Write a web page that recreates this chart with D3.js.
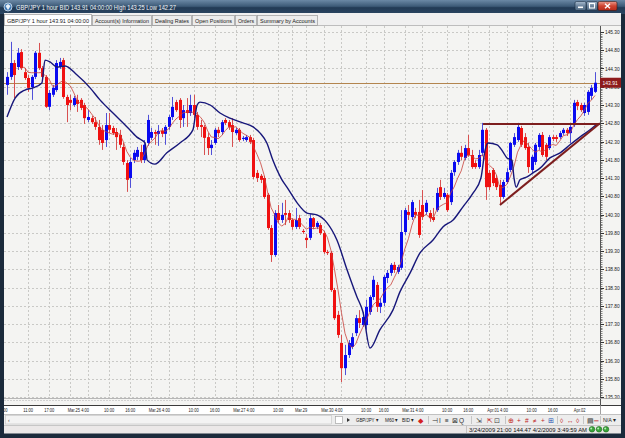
<!DOCTYPE html>
<html>
<head>
<meta charset="utf-8">
<script src="https://cdn.jsdelivr.net/npm/d3@7"></script>
<style>
  body { margin: 0; background: #1b2a3b; }
  svg text { font-family: "Liberation Sans", Arial, sans-serif; }
</style>
</head>
<body>
<div id="chart"></div>
<script>
// GBP/JPY 1 hour candles (bar 0 = Mar.24 5:00)
var opens = [
  143.85, 144.07, 144.45, 144.34, 144.75, 144.20, 144.04, 143.79, 144.07, 144.73,
  144.31, 144.07, 143.25, 143.58, 143.71, 144.34, 144.53, 143.52, 143.44, 143.30,
  143.44, 143.44, 143.30, 142.89, 142.94, 142.83, 142.70, 142.62, 142.34, 142.75,
  142.67, 142.56, 142.48, 142.15, 141.71, 141.30, 141.79, 141.88, 142.01, 141.79,
  142.26, 142.40, 142.56, 142.51, 142.59, 142.51, 142.70, 142.97, 143.38, 143.44,
  142.94, 143.16, 143.08, 143.30, 143.03, 142.75, 142.70, 142.42, 142.12, 142.26,
  142.62, 142.56, 142.89, 142.83, 142.75, 142.53, 142.62, 142.37, 142.34, 142.42,
  142.34, 141.44, 141.36, 141.30, 140.84, 139.93, 139.19, 140.34, 140.15, 140.34,
  140.34, 140.15, 139.96, 140.20, 139.85, 139.66, 139.66, 140.20, 139.96, 140.01,
  139.79, 139.27, 139.25, 138.23, 137.55, 136.78, 136.09, 136.45, 136.67, 137.05,
  137.46, 137.27, 137.27, 137.63, 138.04, 138.37, 137.77, 137.88, 138.56, 138.70,
  138.92, 138.73, 138.84, 139.82, 140.37, 140.23, 140.37, 140.37, 140.56, 140.37,
  140.34, 140.23, 140.42, 141.05, 140.78, 140.84, 140.64, 141.46, 141.74, 141.99,
  141.85, 142.12, 141.93, 141.71, 141.60, 141.99, 142.62, 141.44, 141.52, 141.30,
  141.11, 140.78, 141.19, 141.52, 142.21, 142.34, 142.67, 142.42, 142.15, 141.52,
  141.74, 142.15, 142.48, 142.21, 142.12, 142.42, 142.42, 142.42, 142.53, 142.62,
  142.53, 142.75, 143.38, 143.30, 143.08, 143.11, 143.55, 143.66
];
var highs = [
  144.20, 145.03, 144.53, 144.86, 144.83, 144.31, 144.12, 144.12, 144.78, 145.00,
  144.37, 144.12, 143.71, 143.85, 144.53, 144.59, 144.59, 143.58, 143.58, 143.55,
  143.58, 143.49, 143.36, 143.16, 143.00, 142.97, 142.89, 142.75, 143.08, 143.08,
  142.73, 142.67, 142.62, 142.26, 141.79, 141.85, 142.07, 142.15, 142.21, 142.34,
  143.03, 142.67, 142.62, 142.75, 142.67, 142.75, 143.03, 143.52, 143.44, 143.49,
  143.30, 143.49, 143.58, 143.58, 143.11, 142.89, 142.75, 142.53, 142.34, 142.67,
  142.70, 142.89, 142.94, 142.89, 142.94, 142.67, 142.67, 142.45, 142.48, 142.48,
  142.40, 141.52, 141.41, 141.36, 140.89, 140.01, 140.42, 140.56, 140.62, 140.70,
  140.42, 140.20, 140.48, 140.29, 139.90, 139.77, 140.31, 140.23, 140.12, 140.07,
  139.85, 139.33, 139.30, 138.29, 137.66, 137.00, 136.73, 136.86, 137.05, 137.55,
  137.68, 137.63, 137.96, 138.09, 138.62, 138.45, 138.01, 138.64, 138.78, 138.97,
  139.00, 138.92, 140.42, 140.48, 140.56, 140.70, 140.48, 140.70, 140.97, 140.70,
  140.42, 140.48, 141.03, 141.25, 141.03, 140.89, 141.52, 141.79, 142.07, 142.18,
  142.21, 142.48, 142.07, 141.79, 142.07, 142.81, 142.67, 141.52, 141.57, 141.38,
  141.25, 141.25, 141.57, 142.29, 142.53, 142.81, 142.73, 142.53, 142.26, 141.93,
  142.26, 142.53, 142.56, 142.26, 142.48, 142.48, 142.48, 142.59, 142.67, 142.67,
  142.75, 143.44, 143.44, 143.36, 143.36, 143.71, 143.85, 144.20
];
var lows = [
  143.58, 143.99, 143.49, 144.26, 144.26, 143.99, 143.66, 143.44, 144.01, 144.26,
  143.99, 143.22, 143.16, 143.52, 143.66, 144.29, 143.47, 142.83, 143.16, 143.25,
  143.11, 143.16, 142.78, 142.83, 142.78, 142.62, 142.21, 142.07, 142.15, 142.53,
  142.48, 142.07, 142.12, 141.66, 140.92, 141.03, 141.71, 141.79, 141.71, 141.71,
  142.18, 142.34, 142.21, 142.18, 142.42, 142.21, 142.62, 142.89, 143.11, 142.67,
  142.70, 142.70, 143.00, 142.94, 142.62, 142.42, 141.93, 141.93, 141.93, 142.21,
  142.42, 142.48, 142.75, 142.62, 142.15, 142.48, 142.29, 142.31, 142.29, 142.23,
  141.27, 141.19, 141.16, 140.73, 139.88, 139.00, 139.14, 140.07, 140.07, 140.01,
  140.07, 139.88, 139.90, 139.90, 139.77, 139.38, 139.60, 139.90, 139.90, 139.74,
  139.22, 139.19, 138.18, 137.41, 136.92, 135.71, 135.90, 136.37, 136.61, 136.97,
  137.19, 137.22, 137.14, 137.55, 137.96, 137.63, 137.60, 137.79, 138.42, 138.62,
  138.70, 138.67, 138.78, 139.74, 140.15, 140.15, 140.20, 139.66, 140.15, 140.29,
  140.10, 140.10, 140.37, 140.70, 140.73, 140.37, 140.56, 141.36, 141.66, 141.79,
  141.79, 141.88, 141.55, 141.55, 141.55, 141.90, 140.70, 140.97, 141.08, 140.97,
  140.56, 140.73, 141.14, 141.46, 142.15, 142.29, 142.15, 142.07, 141.44, 141.44,
  141.66, 142.07, 141.88, 141.79, 142.07, 142.31, 142.29, 142.37, 142.48, 142.45,
  142.26, 142.70, 143.16, 143.11, 143.00, 143.03, 143.44, 143.63
];
var closes = [
  144.07, 144.45, 144.12, 144.73, 144.31, 144.04, 143.77, 144.07, 144.73, 144.31,
  144.07, 143.25, 143.63, 143.77, 144.45, 144.48, 143.52, 143.30, 143.36, 143.49,
  143.33, 143.22, 142.94, 142.97, 142.83, 142.70, 142.34, 142.26, 142.75, 142.62,
  142.53, 142.42, 142.21, 141.74, 141.25, 141.74, 141.99, 142.07, 141.79, 142.21,
  142.89, 142.56, 142.51, 142.59, 142.51, 142.70, 142.97, 143.25, 143.16, 142.89,
  143.16, 143.08, 143.30, 143.03, 142.70, 142.70, 142.40, 142.12, 142.21, 142.62,
  142.53, 142.83, 142.81, 142.70, 142.56, 142.62, 142.34, 142.40, 142.42, 142.29,
  141.33, 141.30, 141.25, 140.78, 139.93, 139.19, 140.34, 140.15, 140.29, 140.29,
  140.15, 139.96, 140.15, 139.96, 139.82, 139.60, 140.20, 139.96, 140.07, 139.79,
  139.27, 139.25, 138.23, 137.46, 137.00, 136.09, 136.45, 136.78, 136.94, 137.46,
  137.33, 137.49, 137.77, 138.04, 138.51, 137.77, 137.88, 138.59, 138.70, 138.92,
  138.78, 138.86, 139.82, 140.42, 140.29, 140.64, 140.29, 139.74, 140.23, 140.62,
  140.20, 140.15, 140.89, 140.78, 140.89, 140.42, 141.44, 141.74, 141.99, 141.88,
  142.12, 141.93, 141.60, 141.60, 141.93, 142.62, 141.05, 141.05, 141.16, 141.05,
  140.78, 141.19, 141.46, 142.26, 142.42, 142.70, 142.21, 142.12, 141.60, 141.88,
  142.21, 142.48, 141.93, 141.88, 142.42, 142.37, 142.37, 142.53, 142.62, 142.53,
  142.70, 143.36, 143.27, 143.16, 143.30, 143.66, 143.77, 143.91
];

// slow moving average (navy line): bar position / price
var slowMaBars = [0, 2.3, 5.1, 7.4, 9.9, 10.8, 12.2, 14.2, 16.5, 19.9, 23.6, 26.4, 30.1, 34.1, 36.9, 39.2, 39.8, 42.0,
  45.4, 49.1, 52.8, 54.0, 54.8, 57.7, 60.5, 63.3, 67.0, 69.9, 71.9, 73.8, 75.5, 78.1, 79.5, 82.4, 85.2, 88.0,
  90.9, 93.7, 96.6, 99.4, 101.1, 103.1, 105.9, 109.6, 111.6, 114.5, 117.3, 121.0, 123.8, 126.7, 129.5, 132.4,
  134.6, 135.8, 136.6, 139.2, 140.9, 142.0, 143.4, 144.0, 144.6, 145.7, 147.7, 149.4, 151.4, 154.2, 157.1,
  159.9, 162.7, 165.6, 167.6];
var slowMaValues = [142.97, 143.49, 143.71, 143.77, 143.90, 144.53, 144.48, 144.34, 144.37, 144.12, 143.77, 143.44,
  143.08, 142.70, 142.42, 142.26, 141.79, 141.68, 141.99, 142.26, 142.62, 143.30, 143.38, 143.30, 143.08, 142.94,
  142.81, 142.70, 142.53, 142.26, 141.79, 141.25, 141.05, 140.62, 140.34, 140.29, 140.07, 139.60, 138.78, 138.04,
  137.63, 136.64, 137.14, 137.68, 138.18, 138.70, 139.25, 139.60, 139.96, 140.15, 140.51, 140.89, 141.30, 142.07,
  142.26, 142.21, 142.01, 141.85, 141.79, 141.30, 141.05, 141.25, 141.33, 141.44, 141.57, 141.85, 141.99, 142.21,
  142.42, 142.62, 142.78];

// drawn objects: horizontal price line and the triangle
var lastPrice = 143.91;
var triangleTop = [[135.2, 142.78], [168.4, 142.78]];
var triangleBottom = [[140.0, 140.56], [168.4, 142.80]];

// axis labels
var priceTicks = [145.30, 144.80, 144.30, 143.80, 143.30, 142.80, 142.30, 141.80, 141.30, 140.80, 140.30,
  139.80, 139.30, 138.80, 138.30, 137.80, 137.30, 136.80, 136.30, 135.80, 135.30];
var timeTickBars = [-1, 6, 12, 23, 29, 35, 46, 53, 59, 70, 77, 85, 95, 102, 107, 118, 125, 131, 142, 149, 155, 164];
var timeTickLabels = ["5:00", "11:00", "17:00", "Mar.25  4:00", "10:00", "16:00", "Mar.26  4:00", "10:00", "16:00",
  "Mar.27  4:00", "10:00", "Mar.29", "Mar.30  4:00", "10:00", "16:00", "Mar.31  4:00", "10:00", "16:00",
  "Apr.01  4:00", "10:00", "16:00", "Apr.02"];
var extraGridBars = [18, 41, 65, 81, 90, 113, 137, 160];

var width = 625, height = 438;
var plot = { left: 4, right: 600, top: 26, bottom: 398 };

var svg = d3.select("#chart").append("svg")
    .attr("width", width)
    .attr("height", height);

var defs = svg.append("defs");
var tg = defs.append("linearGradient").attr("id", "titleGrad").attr("x1", 0).attr("y1", 0).attr("x2", 0).attr("y2", 1);
tg.append("stop").attr("offset", "0%").attr("stop-color", "#6b88a5");
tg.append("stop").attr("offset", "45%").attr("stop-color", "#3d5a77");
tg.append("stop").attr("offset", "55%").attr("stop-color", "#223a55");
tg.append("stop").attr("offset", "100%").attr("stop-color", "#2b4662");
var cg = defs.append("linearGradient").attr("id", "closeGrad").attr("x1", 0).attr("y1", 0).attr("x2", 0).attr("y2", 1);
cg.append("stop").attr("offset", "0%").attr("stop-color", "#e99a8c");
cg.append("stop").attr("offset", "50%").attr("stop-color", "#cf4330");
cg.append("stop").attr("offset", "100%").attr("stop-color", "#b52b1a");
var bg = defs.append("linearGradient").attr("id", "btnGrad").attr("x1", 0).attr("y1", 0).attr("x2", 0).attr("y2", 1);
bg.append("stop").attr("offset", "0%").attr("stop-color", "#a9bccf");
bg.append("stop").attr("offset", "50%").attr("stop-color", "#6a829b");
bg.append("stop").attr("offset", "100%").attr("stop-color", "#4f6982");
defs.append("clipPath").attr("id", "plotClip").append("rect")
    .attr("x", plot.left).attr("y", plot.top)
    .attr("width", plot.right - plot.left).attr("height", plot.bottom - plot.top);
defs.append("clipPath").attr("id", "axisClip").append("rect")
    .attr("x", plot.left).attr("y", 404).attr("width", plot.right - plot.left).attr("height", 12);

function squeeze(sel, k) {
    sel.each(function () {
        var len = this.getComputedTextLength();
        d3.select(this).attr("textLength", len * k).attr("lengthAdjust", "spacingAndGlyphs");
    });
}
function fitTo(sel, w) {
    sel.attr("textLength", w).attr("lengthAdjust", "spacingAndGlyphs");
}

// ---- window frame ----
svg.append("rect").attr("width", width).attr("height", height).attr("fill", "#1b2a3b");
svg.append("rect").attr("x", 0).attr("y", 0).attr("width", width).attr("height", 14).attr("fill", "url(#titleGrad)");
svg.append("circle").attr("cx", 8).attr("cy", 7).attr("r", 4).attr("fill", "#3f78b3").attr("stroke", "#d8e6f3").attr("stroke-width", 0.8);
svg.append("path").attr("d", "M5.5,6 L8,4 L10.5,6 L8,10 Z").attr("fill", "#e8f0f8");
fitTo(svg.append("text").attr("x", 16).attr("y", 9.5).attr("font-size", 7).attr("fill", "#f2f5f8")
    .text("GBP/JPY 1 hour BID 143.91 04:00:00 High 143.25 Low 142.27"), 160);

// window buttons
svg.append("rect").attr("x", 575).attr("y", 1.5).attr("width", 11).attr("height", 9).attr("rx", 1.5).attr("fill", "url(#btnGrad)").attr("stroke", "#1d2f44").attr("stroke-width", 0.6);
svg.append("rect").attr("x", 578).attr("y", 6.5).attr("width", 5).attr("height", 1.6).attr("fill", "#fff");
svg.append("rect").attr("x", 586.5).attr("y", 1.5).attr("width", 11).attr("height", 9).attr("rx", 1.5).attr("fill", "url(#btnGrad)").attr("stroke", "#1d2f44").attr("stroke-width", 0.6);
svg.append("rect").attr("x", 589.5).attr("y", 3.5).attr("width", 5).attr("height", 4.5).attr("fill", "none").attr("stroke", "#fff").attr("stroke-width", 1.1);
svg.append("rect").attr("x", 598).attr("y", 1.5).attr("width", 19).attr("height", 9).attr("rx", 1.5).attr("fill", "url(#closeGrad)").attr("stroke", "#3b1a14").attr("stroke-width", 0.6);
svg.append("path").attr("d", "M605,3.8 L610,8.2 M610,3.8 L605,8.2").attr("stroke", "#fff").attr("stroke-width", 1.4);

// ---- tab strip ----
svg.append("rect").attr("x", plot.left).attr("y", 13).attr("width", 617).attr("height", 13).attr("fill", "#f0f0f0");
var tabs = [
    ["GBP/JPY 1 hour 143.91 04:00:00", 4, 92, true],
    ["Account(s) Information", 92, 152, false],
    ["Dealing Rates", 152, 192, false],
    ["Open Positions", 192, 235, false],
    ["Orders", 235, 257, false],
    ["Summary by Accounts", 257, 318, false]
];
tabs.forEach(function (t) {
    svg.append("rect").attr("x", t[1] + 0.5).attr("y", t[3] ? 14.5 : 15.5)
        .attr("width", t[2] - t[1] - 1).attr("height", t[3] ? 11 : 10)
        .attr("fill", t[3] ? "#ffffff" : "#ececec").attr("stroke", "#9a9a9a").attr("stroke-width", 0.7);
    var txt = svg.append("text").attr("x", (t[1] + t[2]) / 2).attr("y", 22.5)
        .attr("text-anchor", "middle").attr("font-size", 5.8).attr("fill", "#1a1a1a").text(t[0]);
    fitTo(txt, t[2] - t[1] - 6);
});
svg.append("line").attr("x1", plot.left).attr("x2", 621).attr("y1", 25.5).attr("y2", 25.5).attr("stroke", "#9a9a9a").attr("stroke-width", 0.6);

// ---- chart background ----
svg.append("rect").attr("x", plot.left).attr("y", 26).attr("width", 617).attr("height", 380).attr("fill", "#f4f4f2");

// scales
var x = d3.scaleLinear().domain([0, closes.length - 1]).range([7, 595]);
var y = d3.scaleLinear().domain([135.30, 145.30]).range([397, 32]);

var chart = svg.append("g").attr("clip-path", "url(#plotClip)");

// grid
chart.selectAll("line.hgrid").data(priceTicks).join("line")
    .attr("class", "hgrid")
    .attr("x1", plot.left).attr("x2", plot.right)
    .attr("y1", function (d) { return Math.round(y(d)) + 0.5; })
    .attr("y2", function (d) { return Math.round(y(d)) + 0.5; })
    .attr("stroke", "#c9c9c6").attr("stroke-dasharray", "2,2").attr("stroke-width", 1);
chart.selectAll("line.vgrid").data(timeTickBars.concat(extraGridBars)).join("line")
    .attr("class", "vgrid")
    .attr("x1", function (d) { return Math.round(x(d)) + 0.5; })
    .attr("x2", function (d) { return Math.round(x(d)) + 0.5; })
    .attr("y1", plot.top).attr("y2", plot.bottom)
    .attr("stroke", "#c9c9c6").attr("stroke-dasharray", "2,2").attr("stroke-width", 1);

// horizontal price line
chart.append("line")
    .attr("x1", plot.left).attr("x2", plot.right)
    .attr("y1", Math.round(y(lastPrice)) + 0.5).attr("y2", Math.round(y(lastPrice)) + 0.5)
    .attr("stroke", "#b3854f").attr("stroke-width", 1);

// candles
var bars = closes.map(function (c, i) {
    return { i: i, o: opens[i], h: highs[i], l: lows[i], c: c };
});
var upColor = "#0a0af0", downColor = "#f01010";
chart.selectAll("line.wick").data(bars).join("line")
    .attr("class", "wick")
    .attr("x1", function (d) { return Math.round(x(d.i)) + 0.5; })
    .attr("x2", function (d) { return Math.round(x(d.i)) + 0.5; })
    .attr("y1", function (d) { return y(d.h); })
    .attr("y2", function (d) { return y(d.l); })
    .attr("stroke", function (d) { return d.c >= d.o ? "#5050d8" : "#d85050"; })
    .attr("stroke-width", 1);
chart.selectAll("rect.body").data(bars).join("rect")
    .attr("class", "body")
    .attr("x", function (d) { return Math.round(x(d.i)) - 1; })
    .attr("width", 3)
    .attr("y", function (d) { return y(Math.max(d.o, d.c)); })
    .attr("height", function (d) { return Math.max(1, Math.abs(y(d.o) - y(d.c))); })
    .attr("fill", function (d) { return d.c >= d.o ? upColor : downColor; });

// fast moving average (thin red), 5 bars of closes
var fastMa = closes.map(function (c, i) {
    return i < 4 ? null : d3.mean(closes.slice(i - 4, i + 1));
});
chart.append("path")
    .datum(fastMa.map(function (v, i) { return [i, v]; }).filter(function (d) { return d[1] !== null; }))
    .attr("fill", "none").attr("stroke", "#c8403a").attr("stroke-width", 0.8)
    .attr("d", d3.line().x(function (d) { return x(d[0]); }).y(function (d) { return y(d[1]); }));

// slow moving average (navy)
chart.append("path")
    .datum(slowMaBars.map(function (b, i) { return [b, slowMaValues[i]]; }))
    .attr("fill", "none").attr("stroke", "#17177a").attr("stroke-width", 1.4)
    .attr("d", d3.line().curve(d3.curveMonotoneX).x(function (d) { return x(d[0]); }).y(function (d) { return y(d[1]); }));

// triangle
[triangleTop, triangleBottom].forEach(function (seg) {
    chart.append("path").datum(seg)
        .attr("fill", "none").attr("stroke", "#7d1e1e").attr("stroke-width", 2)
        .attr("d", d3.line().x(function (d) { return x(d[0]); }).y(function (d) { return y(d[1]); }));
});

// ---- price axis ----
var minorTicks = y.ticks(200);
var axisG = svg.append("g");
axisG.append("line").attr("x1", 600.5).attr("x2", 600.5).attr("y1", plot.top).attr("y2", 405)
    .attr("stroke", "#555").attr("stroke-width", 1);
axisG.selectAll("line.minor").data(minorTicks).join("line")
    .attr("class", "minor")
    .attr("x1", 600.5).attr("x2", 602.5)
    .attr("y1", function (d) { return Math.round(y(d)) + 0.5; })
    .attr("y2", function (d) { return Math.round(y(d)) + 0.5; })
    .attr("stroke", "#555").attr("stroke-width", 0.7);
axisG.selectAll("line.major").data(priceTicks).join("line")
    .attr("class", "major")
    .attr("x1", 600.5).attr("x2", 604)
    .attr("y1", function (d) { return Math.round(y(d)) + 0.5; })
    .attr("y2", function (d) { return Math.round(y(d)) + 0.5; })
    .attr("stroke", "#333").attr("stroke-width", 1);
var priceLabels = axisG.selectAll("text.plabel").data(priceTicks).join("text")
    .attr("class", "plabel")
    .attr("x", 605).attr("y", function (d) { return y(d) + 2; })
    .attr("font-size", 5.6).attr("fill", "#222")
    .text(function (d) { return d.toFixed(2); });
squeeze(priceLabels, 0.86);

// last price tag
axisG.append("rect").attr("x", 600).attr("y", y(lastPrice) - 5).attr("width", 21).attr("height", 10).attr("fill", "#8e1b1b");
squeeze(axisG.append("text").attr("x", 602.5).attr("y", y(lastPrice) + 2.2).attr("font-size", 5.8)
    .attr("fill", "#ffffff").text(lastPrice.toFixed(2)), 0.86);

// ---- indicator strip + time axis ----
svg.append("line").attr("x1", plot.left).attr("x2", 621).attr("y1", 398.5).attr("y2", 398.5).attr("stroke", "#a6a6a6").attr("stroke-width", 0.8);
svg.append("line").attr("x1", plot.left).attr("x2", 600).attr("y1", 400.5).attr("y2", 400.5).attr("stroke", "#c8c8c8").attr("stroke-dasharray", "2,1").attr("stroke-width", 0.8);
svg.append("rect").attr("x", plot.left).attr("y", 405).attr("width", 617).attr("height", 9).attr("fill", "#ffffff");
svg.append("line").attr("x1", plot.left).attr("x2", 621).attr("y1", 405.5).attr("y2", 405.5).attr("stroke", "#3a3a3a").attr("stroke-width", 1);
svg.append("line").attr("x1", 600.5).attr("x2", 600.5).attr("y1", 405).attr("y2", 414).attr("stroke", "#888").attr("stroke-width", 0.8);
var timeG = svg.append("g").attr("clip-path", "url(#axisClip)");
var timeLabels = timeG.selectAll("text").data(timeTickBars).join("text")
    .attr("x", function (d, i) { return timeTickLabels[i].indexOf("M") === 0 || timeTickLabels[i].indexOf("A") === 0 ? x(d) + 1 : x(d); })
    .attr("y", 412)
    .attr("text-anchor", function (d, i) { return /^[MA]/.test(timeTickLabels[i]) ? "end" : "middle"; })
    .attr("font-size", 5.6).attr("fill", "#222")
    .text(function (d, i) { return timeTickLabels[i]; });
squeeze(timeLabels, 0.72);

// ---- toolbar ----
svg.append("rect").attr("x", plot.left).attr("y", 414).attr("width", 617).attr("height", 11).attr("fill", "#ededed");
svg.append("line").attr("x1", plot.left).attr("x2", 621).attr("y1", 414.5).attr("y2", 414.5).attr("stroke", "#b5b5b5").attr("stroke-width", 0.8);
svg.append("rect").attr("x", 5.5).attr("y", 415.5).attr("width", 326).attr("height", 8.5).attr("fill", "#f3f3f3").attr("stroke", "#c4c4c4").attr("stroke-width", 0.6);
svg.append("text").attr("x", 8).attr("y", 422).attr("font-size", 5).attr("fill", "#333").text("‹");
svg.append("rect").attr("x", 335.5).attr("y", 416.5).attr("width", 7).attr("height", 7).attr("fill", "#fff").attr("stroke", "#999").attr("stroke-width", 0.6);
svg.append("path").attr("d", "M347,418 L350,420 L347,422 Z").attr("fill", "#333");
var tbTexts = [["GBP/JPY ▾", 356, 22], ["M60 ▾", 385, 13], ["BID ▾", 402, 12], ["N/A ▾", 603, 13]];
tbTexts.forEach(function (t) {
    fitTo(svg.append("text").attr("x", t[1]).attr("y", 422).attr("font-size", 5.5).attr("fill", "#222").text(t[0]), t[2]);
});
// little icon glyphs on the toolbar
var icons = [
    ["◆", 418, "#d42020"], ["⊣", 432, "#333"], ["I", 439, "#333"], ["≡", 445, "#333"], ["⊠", 452, "#333"], ["Q", 459, "#333"],
    ["⇲", 476, "#444"], ["⇱", 487, "#c02020"], ["⊡", 494, "#444"],
    ["⊕", 508, "#c02020"], ["+", 517, "#c02020"], ["#", 525, "#c02020"], ["≠", 533, "#c02020"], ["+", 541, "#c02020"], ["⊞", 548, "#2050b0"],
    ["◊", 560, "#c02020"], ["↔", 567, "#c02020"], ["◊", 576, "#c02020"], ["▤", 587, "#333"], ["═", 594, "#c02020"]
];
icons.forEach(function (c) {
    svg.append("text").attr("x", c[1]).attr("y", 422.5).attr("font-size", 6.5).attr("fill", c[2]).text(c[0]);
});
[428, 471, 505, 557, 583, 600].forEach(function (sx) {
    svg.append("line").attr("x1", sx + 0.5).attr("x2", sx + 0.5).attr("y1", 416).attr("y2", 424).attr("stroke", "#aaa").attr("stroke-width", 0.6);
});

// ---- status bar ----
svg.append("rect").attr("x", plot.left).attr("y", 425).attr("width", 617).attr("height", 8.5).attr("fill", "#ebe8e8");
svg.append("line").attr("x1", plot.left).attr("x2", 621).attr("y1", 425.5).attr("y2", 425.5).attr("stroke", "#bdbdbd").attr("stroke-width", 0.8);
svg.append("line").attr("x1", 466.5).attr("x2", 466.5).attr("y1", 426).attr("y2", 433).attr("stroke", "#aaa").attr("stroke-width", 0.6);
fitTo(svg.append("text").attr("x", 469).attr("y", 431.8).attr("font-size", 6.2).attr("fill", "#111")
    .text("3/24/2009 21:00  144.47  4/2/2009 3:49:59 AM"), 118);
[592, 599, 606].forEach(function (cx) {
    svg.append("circle").attr("cx", cx).attr("cy", 429.3).attr("r", 2.8).attr("fill", "#3aa33a").attr("stroke", "#1f6b1f").attr("stroke-width", 0.6);
    svg.append("circle").attr("cx", cx - 0.8).attr("cy", 428.4).attr("r", 1).attr("fill", "#b8f0b8");
});
</script>
</body>
</html>
